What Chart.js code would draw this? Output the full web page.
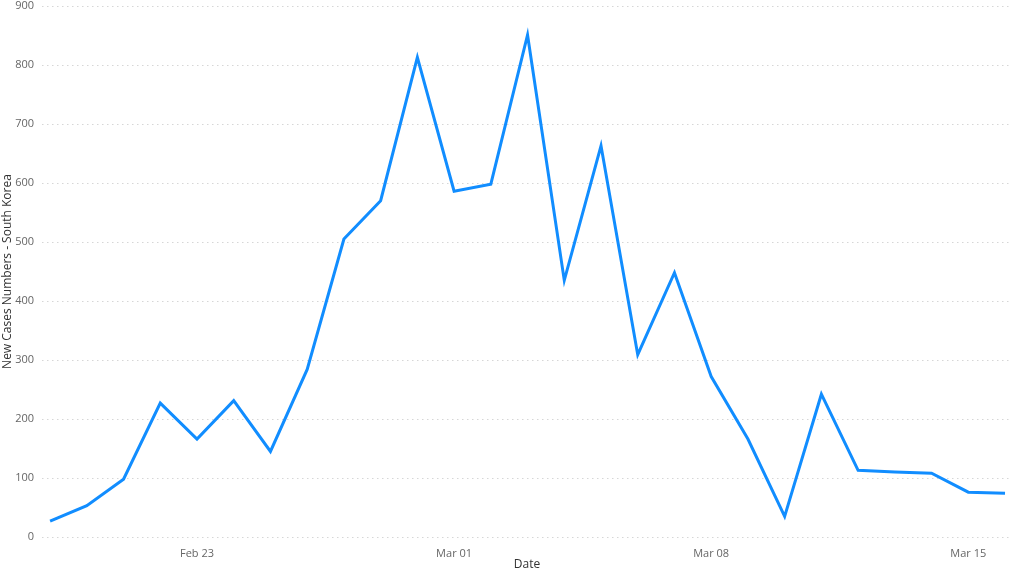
<!DOCTYPE html>
<html lang="en">
<head>
  <meta charset="UTF-8" />
  <title>New Cases - South Korea</title>
  <style>
    html, body { margin: 0; padding: 0; background: #fff; }
    #wrap { width: 1024px; height: 572px; position: relative; }
  </style>
</head>
<body>
  <div id="wrap"><canvas id="casesChart"></canvas></div>

  <script src="https://cdn.jsdelivr.net/npm/chart.js"></script>
  <script>
    const dates = [
      'Feb 19', 'Feb 20', 'Feb 21', 'Feb 22', 'Feb 23', 'Feb 24', 'Feb 25',
      'Feb 26', 'Feb 27', 'Feb 28', 'Feb 29', 'Mar 01', 'Mar 02', 'Mar 03',
      'Mar 04', 'Mar 05', 'Mar 06', 'Mar 07', 'Mar 08', 'Mar 09', 'Mar 10',
      'Mar 11', 'Mar 12', 'Mar 13', 'Mar 14', 'Mar 15', 'Mar 16'
    ];
    const newCases = [
      27, 53, 98, 227, 166, 231, 145,
      284, 505, 570, 813, 586, 598, 851,
      435, 663, 309, 448, 272, 166, 35,
      242, 113, 110, 108, 76, 74
    ];
    const xTickLabels = ['Feb 23', 'Mar 01', 'Mar 08', 'Mar 15'];
    const yTicks = [0, 100, 200, 300, 400, 500, 600, 700, 800, 900];

    const points = dates.map((d, i) => ({ x: i, y: newCases[i] }));
    const font = "'Open Sans', 'Noto Sans', sans-serif";

    new Chart(document.getElementById('casesChart'), {
      type: 'line',
      data: {
        datasets: [{
          label: 'New Cases',
          data: points,
          borderColor: '#118DFF',
          borderWidth: 3,
          pointRadius: 0,
          tension: 0,
          fill: false
        }]
      },
      options: {
        responsive: true,
        maintainAspectRatio: false,
        animation: false,
        layout: { padding: { top: 6, right: 12, left: 0, bottom: 0 } },
        plugins: {
          legend: { display: false },
          tooltip: { enabled: false }
        },
        scales: {
          x: {
            type: 'linear',
            min: -0.22,
            max: 26.19,
            afterFit: axis => { axis.height = 35; },
            grid: { display: false },
            border: { display: false },
            afterBuildTicks: axis => {
              axis.ticks = xTickLabels.map(l => ({ value: dates.indexOf(l) }));
            },
            ticks: {
              color: '#666',
              font: { family: font, size: 11 },
              padding: 2,
              maxRotation: 0,
              callback: v => dates[v]
            },
            title: {
              display: true,
              text: 'Date',
              color: '#333',
              font: { family: font, size: 12 },
              padding: { top: 0, bottom: 0 }
            }
          },
          y: {
            min: 0,
            max: 900,
            afterFit: axis => {
              axis.width = 42;
              axis.paddingTop = 0;
            },
            afterBuildTicks: axis => {
              axis.ticks = yTicks.map(v => ({ value: v }));
            },
            grid: {
              color: '#d6d6d6',
              lineWidth: 1,
              tickLength: 0,
              drawTicks: false
            },
            border: { display: false, dash: [1.5, 3.5] },
            ticks: {
              color: '#666',
              font: { family: font, size: 11 },
              padding: 8
            },
            title: {
              display: true,
              text: 'New Cases Numbers - South Korea',
              color: '#333',
              font: { family: font, size: 12 },
              padding: { top: 0, bottom: 2 }
            }
          }
        }
      }
    });
  </script>
</body>
</html>
